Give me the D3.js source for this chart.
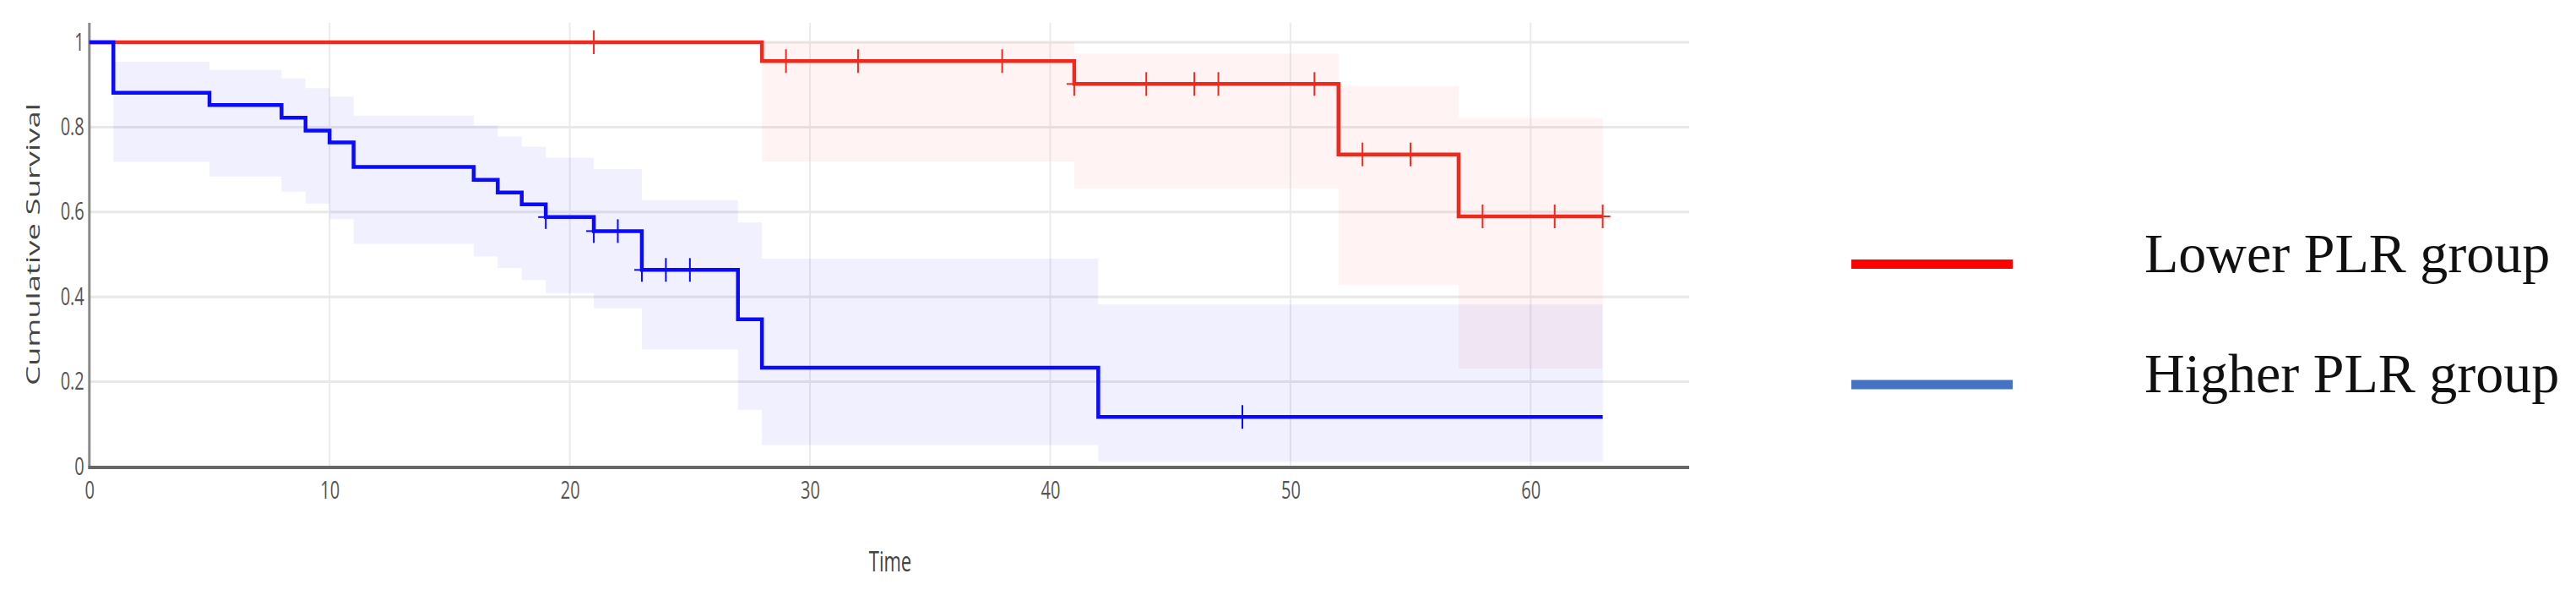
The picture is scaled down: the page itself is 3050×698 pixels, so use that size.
<!DOCTYPE html>
<html>
<head>
<meta charset="utf-8">
<script src="https://cdn.jsdelivr.net/npm/d3@7"></script>
<style>
  html, body { margin: 0; padding: 0; background: #ffffff; }
  svg { display: block; }
</style>
</head>
<body>
<script>
// ---------------- DATA ----------------
const seriesNames = ["Lower PLR group", "Higher PLR group"];

// Lower PLR group (red)
const lowerTimes = [0, 28, 41, 52, 57];
const lowerSurv  = [1, 0.9556, 0.9017, 0.7357, 0.5896];
const lowerBandTimes = [28, 41, 52, 57];
const lowerBandLow   = [0.719, 0.656, 0.428, 0.231];
const lowerBandHigh  = [1.0, 0.973, 0.897, 0.821];
const lowerCensor = [21, 29, 32, 38, 41, 44, 46, 47, 51, 53, 55, 58, 61, 63];
const lowerEnd = 63;

// Higher PLR group (blue)
const higherTimes = [0, 1, 5, 8, 9, 10, 11, 16, 17, 18, 19, 21, 23, 27, 28, 42];
const higherSurv  = [1, 0.881, 0.852, 0.822, 0.792, 0.764, 0.706, 0.676, 0.646, 0.618, 0.588, 0.555, 0.4635, 0.347, 0.233, 0.117];
const higherBandTimes = [1, 5, 8, 9, 10, 11, 16, 17, 18, 19, 21, 23, 27, 28, 42];
const higherBandLow   = [0.718, 0.684, 0.648, 0.620, 0.583, 0.525, 0.495, 0.468, 0.439, 0.409, 0.373, 0.276, 0.134, 0.051, 0.012];
const higherBandHigh  = [0.954, 0.935, 0.915, 0.892, 0.872, 0.827, 0.804, 0.778, 0.754, 0.728, 0.701, 0.628, 0.575, 0.490, 0.382];
const higherCensor = [19, 21, 22, 23, 24, 25, 48];
const higherEnd = 63;

const xTicks = [0, 10, 20, 30, 40, 50, 60];
const xTickLabels = ["0", "10", "20", "30", "40", "50", "60"];
const yTicks = [0, 0.2, 0.4, 0.6, 0.8, 1];
const yTickLabels = ["0", "0.2", "0.4", "0.6", "0.8", "1"];

const xTitle = "Time";
const yTitle = "Cumulative Survival";

// ---------------- LAYOUT ----------------
const W = 3050, H = 698;
const svg = d3.select("body").append("svg").attr("width", W).attr("height", H);

const x = d3.scaleLinear().domain([0, 66.6]).range([105.8, 2000]);
const y = d3.scaleLinear().domain([0, 1]).range([552, 50]);
const plotTop = 27;

const redLine = "#ee2a1f", blueLine = "#0a0aff";

// grid
const grid = svg.append("g");
grid.selectAll("line.v").data(xTicks.filter(d => d > 0)).join("line")
  .attr("x1", d => x(d)).attr("x2", d => x(d))
  .attr("y1", plotTop).attr("y2", y(0))
  .attr("stroke", "#ebebef").attr("stroke-width", 2);
grid.selectAll("line.h").data(yTicks.filter(d => d > 0)).join("line")
  .attr("x1", x(0)).attr("x2", x.range()[1])
  .attr("y1", d => y(d)).attr("y2", d => y(d))
  .attr("stroke", "#e8e8e8").attr("stroke-width", 3);

// confidence bands
function bandData(times, lo, hi, end) {
  const pts = times.map((t, i) => ({ t, lo: lo[i], hi: hi[i] }));
  const last = pts[pts.length - 1];
  pts.push({ t: end, lo: last.lo, hi: last.hi });
  return pts;
}
const area = d3.area().curve(d3.curveStepAfter)
  .x(d => x(d.t)).y0(d => y(d.lo)).y1(d => y(d.hi));

svg.append("path")
  .datum(bandData(lowerBandTimes, lowerBandLow, lowerBandHigh, lowerEnd))
  .attr("d", area).attr("fill", "#ff2a1a").attr("fill-opacity", 0.05);
svg.append("path")
  .datum(bandData(higherBandTimes, higherBandLow, higherBandHigh, higherEnd))
  .attr("d", area).attr("fill", "#0000ff").attr("fill-opacity", 0.06);

// axes lines
svg.append("line").attr("x1", x(0)).attr("x2", x(0)).attr("y1", plotTop).attr("y2", y(0))
  .attr("stroke", "#8a8a8a").attr("stroke-width", 3);
svg.append("line").attr("x1", x(0) - 1.5).attr("x2", x.range()[1]).attr("y1", y(0) + 1).attr("y2", y(0) + 1)
  .attr("stroke", "#666666").attr("stroke-width", 4);

// axis tick labels
const yAxis = svg.append("g").attr("transform", `translate(${x(0)},0)`)
  .call(d3.axisLeft(y).tickValues(yTicks).tickFormat((d, i) => yTickLabels[i]).tickSize(0).tickPadding(6));
yAxis.select(".domain").remove();
yAxis.selectAll("text")
  .attr("font-family", "'Open Sans', sans-serif").attr("font-size", 20)
  .attr("fill", "#555").attr("transform", "scale(1,1.42)");

const xAxis = svg.append("g").attr("transform", `translate(0,${y(0)})`)
  .call(d3.axisBottom(x).tickValues(xTicks).tickFormat((d, i) => xTickLabels[i]).tickSize(0));
xAxis.select(".domain").remove();
xAxis.selectAll("text")
  .attr("y", 0).attr("dy", 0)
  .attr("font-family", "'Open Sans', sans-serif").attr("font-size", 20)
  .attr("fill", "#555").attr("transform", "translate(0,38) scale(1,1.42)");

// titles
svg.append("text")
  .attr("transform", "translate(47,289) rotate(-90)")
  .attr("text-anchor", "middle")
  .attr("font-family", "'Open Sans', sans-serif").attr("font-size", 22)
  .attr("textLength", 334).attr("lengthAdjust", "spacingAndGlyphs")
  .attr("fill", "#444").text(yTitle);
svg.append("text")
  .attr("transform", "translate(1054,676) scale(1,1.45)")
  .attr("text-anchor", "middle")
  .attr("font-family", "'Open Sans', sans-serif").attr("font-size", 22)
  .attr("fill", "#444").text(xTitle);

// survival curves
function stepData(times, surv, end) {
  const pts = times.map((t, i) => ({ t, s: surv[i] }));
  pts.push({ t: end, s: surv[surv.length - 1] });
  return pts;
}
function survAt(times, surv, t) {
  let v = surv[0];
  for (let i = 0; i < times.length; i++) if (times[i] <= t) v = surv[i];
  return v;
}
const line = d3.line().curve(d3.curveStepAfter).x(d => x(d.t)).y(d => y(d.s));

function drawSeries(times, surv, end, censor, color, width) {
  svg.append("path").datum(stepData(times, surv, end)).attr("d", line)
    .attr("fill", "none").attr("stroke", color).attr("stroke-width", width)
    .attr("stroke-linejoin", "miter");
  const g = svg.append("g").attr("stroke", color).attr("stroke-width", 2);
  censor.forEach(t => {
    const cx = x(t), cy = y(survAt(times, surv, t));
    g.append("line").attr("x1", cx).attr("x2", cx).attr("y1", cy - 14).attr("y2", cy + 14);
    g.append("line").attr("x1", cx - 9).attr("x2", cx + 9).attr("y1", cy).attr("y2", cy);
  });
}
drawSeries(lowerTimes, lowerSurv, lowerEnd, lowerCensor, redLine, 4.5);
drawSeries(higherTimes, higherSurv, higherEnd, higherCensor, blueLine, 4.5);

// legend
const legendColors = ["#ff0000", "#4472c4"];
const legendY = [312.5, 455];
const legendBase = [322, 464];
seriesNames.forEach((name, i) => {
  svg.append("line").attr("x1", 2192).attr("x2", 2383)
    .attr("y1", legendY[i]).attr("y2", legendY[i])
    .attr("stroke", legendColors[i]).attr("stroke-width", 11);
  svg.append("text").attr("x", 2539).attr("y", legendBase[i])
    .attr("font-family", "'Liberation Serif', 'Times New Roman', serif")
    .attr("font-size", 66).attr("fill", "#111").text(name);
});
</script>
</body>
</html>
